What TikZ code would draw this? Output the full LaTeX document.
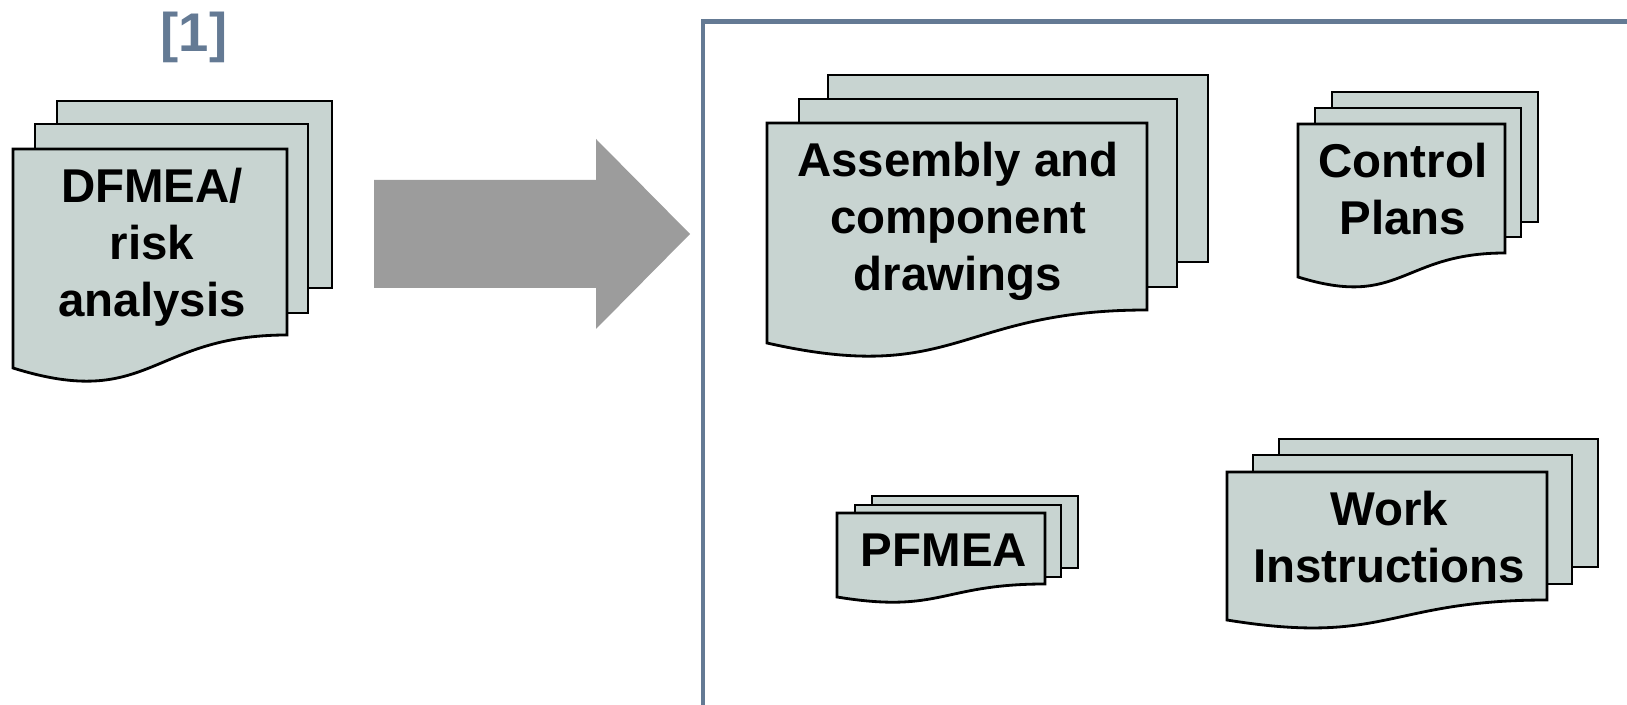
\documentclass[tikz,border=0pt]{standalone}
\usepackage{fontspec}
\setmainfont{Liberation Sans}
\definecolor{slate}{HTML}{647A94}
\definecolor{sheetfill}{HTML}{C8D4D1}
\definecolor{arrowgray}{HTML}{9C9C9C}

\begin{document}
\begin{tikzpicture}[x=0.02cm, y=-0.02cm,
  sheet/.style={draw=black, line width=1.6pt, fill=sheetfill},
  doclabel/.style={font=\fontsize{27}{32.5}\selectfont\bfseries, align=center, inner sep=0pt},
  frame/.style={draw=slate, line width=2.3pt}]
\clip (0,0) rectangle (1627,705);
\node[font=\fontsize{31}{36}\selectfont\bfseries, text=slate, inner sep=0pt] (ref) at (194, 37) {[1]};
% DFMEA stack
\draw[sheet] (57, 101) rectangle (332, 288);
\draw[sheet] (35, 124) rectangle (308, 313);
\draw[sheet] (13, 149) -- (287, 149) -- (287, 335) .. controls (150, 335) and (150, 411) .. (13, 368) -- cycle;
\node[doclabel] (dfmea) at (152, 247) {DFMEA/\\risk\\analysis};
% big arrow
\fill[arrowgray] (374, 180) -- (596, 180) -- (596, 139) -- (690, 234) -- (596, 329) -- (596, 288) -- (374, 288) -- cycle;
% frame
\draw[frame] (703, 21.5) rectangle (1660, 707.5);
% drawings
\draw[sheet] (828, 75) rectangle (1208, 262);
\draw[sheet] (799, 99) rectangle (1177, 287);
\draw[sheet] (767, 123) -- (1147, 123) -- (1147, 310) .. controls (957, 310) and (957, 386) .. (767, 343) -- cycle;
\node[doclabel] (drawings) at (958, 221) {Assembly and\\component\\drawings};
% control plans
\draw[sheet] (1332, 92) rectangle (1538, 222);
\draw[sheet] (1315, 108) rectangle (1521, 237);
\draw[sheet] (1298, 124) -- (1505, 124) -- (1505, 253) .. controls (1401, 253) and (1401, 309) .. (1298, 277) -- cycle;
\node[doclabel] (plans) at (1403, 189) {Control\\Plans};
% pfmea
\draw[sheet] (872, 496) rectangle (1078, 568);
\draw[sheet] (855, 505) rectangle (1061, 577);
\draw[sheet] (837, 513) -- (1045, 513) -- (1045, 584) .. controls (941, 584) and (941, 614) .. (837, 597) -- cycle;
\node[doclabel] (pfmea) at (944, 550) {PFMEA};
% work instructions
\draw[sheet] (1279, 439) rectangle (1598, 567);
\draw[sheet] (1253, 455) rectangle (1572, 584);
\draw[sheet] (1227, 472) -- (1547, 472) -- (1547, 600) .. controls (1387, 600) and (1387, 646) .. (1227, 620) -- cycle;
\node[doclabel] (instr) at (1389, 537) {Work\\Instructions};
\end{tikzpicture}
\end{document}
